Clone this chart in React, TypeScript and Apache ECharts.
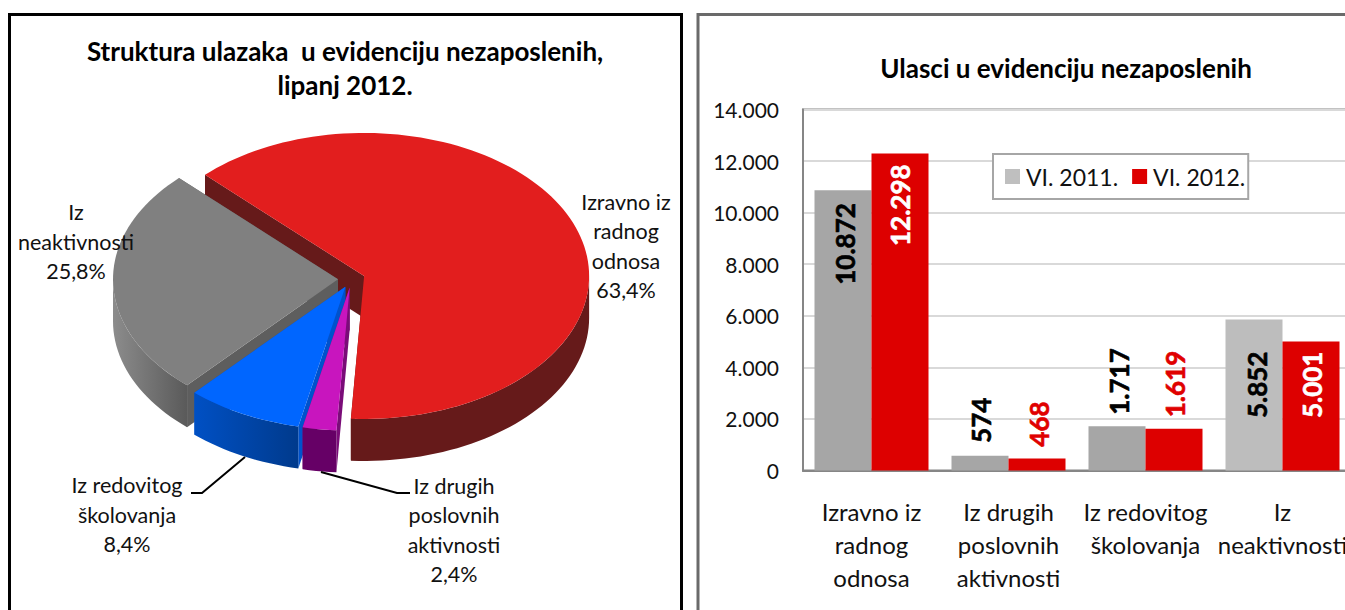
import React, { useEffect, useRef } from "react";
import * as echarts from "echarts";

const categories = [
  "Izravno iz\nradnog\nodnosa",
  "Iz drugih\nposlovnih\naktivnosti",
  "Iz redovitog\nškolovanja",
  "Iz\nneaktivnosti",
];
const values2011 = [10872, 574, 1717, 5852];
const values2012 = [12298, 468, 1619, 5001];
const seriesNames = ["VI. 2011.", "VI. 2012."];
const pieTitle = "Struktura ulazaka  u evidenciju nezaposlenih,\nlipanj 2012.";
const barTitle = "Ulasci u evidenciju nezaposlenih";

const FONT = "Lato, Carlito, Calibri, sans-serif";
const DATA_FONT = "Lato, sans-serif";

// bar label shifts from the bar's top (screen x, screen y), and their colours
const shift2011 = [[2, 13], [1, -58], [2, -78], [3, 32]];
const shift2012 = [[0, 11], [2, -57], [1, -78], [1, 10]];
const colors2011 = ["#A6A6A6", "#A6A6A6", "#A6A6A6", "#BDBDBD"];
const labelColors2012 = ["#FFFFFF", "#E00000", "#E00000", "#FFFFFF"];

// 3D pie layout
const PIE = { cx: 351.5, cy: 279, a: 225, b: 143, depth: 42, explode: 13.5, startDeg: 315 };
const pieTop = ["#E21E1E", "#C815BE", "#0066FF", "#808080"];
const pieFace = ["#661A1A", "#7A0C78", "#0052CC", "#5E5E5E"];
const pieWall: [string, string][] = [
  ["#661A1A", "#661A1A"],
  ["#660066", "#660066"],
  ["#003A8C", "#0050C4"],
  ["#5A5A5A", "#8C8C8C"],
];
const pieLabelPos = [
  [626, 246],
  [454, 530],
  [127, 514.5],
  [76, 241.5],
];
const leaderLines: number[][][] = [
  [],
  [[410, 493], [397, 493], [321, 472]],
  [[191, 493], [202, 493], [245, 457]],
  [],
];
// [slice, part]: part 1 = radial faces only, 2 = wall and top only, 0 = everything
const drawOrder = [[0, 1], [3, 0], [2, 0], [1, 0], [0, 2]];
const labelOrder = [3, 2, 1, 0];

const fmt = (v: number) => String(v).replace(/\B(?=(\d{3})+$)/g, ".");
const total = values2012.reduce((s, v) => s + v, 0);
const pct = (v: number) => ((v / total) * 100).toFixed(1).replace(".", ",") + "%";

function sliceAngles(i: number) {
  let t0 = PIE.startDeg;
  for (let k = 0; k < i; k++) t0 += (values2012[k] / total) * 360;
  return [t0, t0 + (values2012[i] / total) * 360];
}
const rad = (d: number) => (d * Math.PI) / 180;

function renderSlice(_p: any, api: any) {
  const i = api.value(0);
  const part = api.value(1);
  const [t0, t1] = sliceAngles(i);
  const mid = (t0 + t1) / 2;
  const cx = PIE.cx + PIE.explode * Math.sin(rad(mid));
  const cy = PIE.cy - PIE.explode * (PIE.b / PIE.a) * Math.cos(rad(mid));
  const pt = (t: number, dz = 0) => [
    cx + PIE.a * Math.sin(rad(t)),
    cy - PIE.b * Math.cos(rad(t)) + dz,
  ];
  const arc = (from: number, to: number, dz = 0) => {
    const n = Math.max(2, Math.ceil(Math.abs(to - from) / 2));
    const out: number[][] = [];
    for (let k = 0; k <= n; k++) out.push(pt(from + ((to - from) * k) / n, dz));
    return out;
  };
  const d = PIE.depth;
  const children: any[] = [];
  const face = (t: number) => ({
    type: "polygon",
    shape: { points: [[cx, cy], pt(t), pt(t, d), [cx, cy + d]] },
    style: { fill: pieFace[i] },
  });
  if (part !== 2) children.push(face(t0), face(t1));
  if (part !== 1) {
    for (const base of [90, 450]) {
      const f = Math.max(t0, base);
      const e = Math.min(t1, base + 180);
      if (e > f) {
        children.push({
          type: "polygon",
          shape: { points: [...arc(f, e), ...arc(e, f, d)] },
          style: {
            fill: {
              type: "linear", x: 0, y: 0, x2: 1, y2: 0,
              colorStops: [
                { offset: 0, color: pieWall[i][1] },
                { offset: 1, color: pieWall[i][0] },
              ],
            },
          },
        });
      }
    }
    children.push({
      type: "polygon",
      shape: { points: [[cx, cy], ...arc(t0, t1)] },
      style: { fill: pieTop[i] },
    });
  }
  return { type: "group", children };
}

function renderPieLabel(_p: any, api: any) {
  const i = api.value(0);
  const children: any[] = [];
  if (leaderLines[i].length) {
    children.push({
      type: "polyline",
      shape: { points: leaderLines[i] },
      style: { stroke: "#000", lineWidth: 2, fill: "none" },
    });
  }
  children.push({
    type: "text",
    style: {
      x: pieLabelPos[i][0],
      y: pieLabelPos[i][1],
      text: categories[i] + "\n" + pct(values2012[i]),
      fill: "#111",
      fontFamily: FONT,
      fontSize: 21.5,
      lineHeight: 29.3,
      align: "center",
      verticalAlign: "middle",
    },
  });
  return { type: "group", children };
}

export default function App() {
  const ref = useRef<HTMLDivElement>(null);
  useEffect(() => {
    const chart = echarts.init(ref.current!, null, { renderer: "svg" });
    const barLabel = (v: number, shift: number[], color: string) => ({
      show: true,
      position: "top",
      distance: 0,
      rotate: 90,
      align: "right",
      verticalAlign: "middle",
      offset: [-shift[1], shift[0]],
      color,
      fontFamily: DATA_FONT,
      fontSize: 26,
      fontWeight: "bold",
      textBorderColor: color,
      textBorderWidth: 0.6,
      formatter: () => fmt(v),
    });
    chart.setOption({
      animation: false,
      backgroundColor: "#fff",
      title: [
        {
          text: pieTitle,
          left: 340,
          top: 29,
          textAlign: "center",
          textStyle: { fontFamily: FONT, fontSize: 26, fontWeight: "bold", color: "#000", lineHeight: 34 },
        },
        {
          text: barTitle,
          left: 1061,
          top: 47,
          textAlign: "center",
          textStyle: { fontFamily: FONT, fontSize: 26, fontWeight: "bold", color: "#000", lineHeight: 32 },
        },
      ],
      legend: {
        data: seriesNames,
        left: 993,
        top: 154,
        orient: "horizontal",
        itemWidth: 15,
        itemHeight: 15,
        itemGap: 14,
        padding: [11, 3, 11, 12],
        backgroundColor: "#fff",
        borderColor: "#A6A6A6",
        borderWidth: 2,
        icon: "rect",
        textStyle: { fontFamily: FONT, fontSize: 23, color: "#111", padding: [0, 0, 0, 1] },
      },
      grid: {
        left: 803,
        top: 109.5,
        width: 548,
        height: 361,
        show: true,
        borderColor: "#868686",
        borderWidth: 2,
      },
      xAxis: {
        type: "category",
        data: categories,
        axisTick: { show: false },
        axisLine: { lineStyle: { color: "#868686", width: 2 } },
        axisLabel: {
          interval: 0,
          margin: 24,
          fontFamily: FONT,
          fontSize: 24,
          lineHeight: 33,
          color: "#111",
          verticalAlign: "top",
        },
      },
      yAxis: {
        type: "value",
        min: 0,
        max: 14000,
        interval: 2000,
        axisTick: { show: false },
        axisLine: { show: true, lineStyle: { color: "#868686", width: 2 } },
        splitLine: { lineStyle: { color: "#D9D9D9", width: 2 } },
        axisLabel: {
          margin: 24,
          fontFamily: FONT,
          fontSize: 21,
          color: "#111",
          formatter: (v: number) => fmt(v),
        },
      },
      series: [
        {
          name: seriesNames[0],
          type: "bar",
          barWidth: 57,
          barGap: 0,
          itemStyle: { color: "#BFBFBF" },
          data: values2011.map((v, i) => ({
            value: v,
            itemStyle: { color: colors2011[i] },
            label: barLabel(v, shift2011[i], "#000"),
          })),
        },
        {
          name: seriesNames[1],
          type: "bar",
          barWidth: 57,
          itemStyle: { color: "#DD0000" },
          data: values2012.map((v, i) => ({
            value: v,
            label: barLabel(v, shift2012[i], labelColors2012[i]),
          })),
        },
        {
          name: "pie",
          type: "custom",
          coordinateSystem: "none",
          renderItem: renderSlice,
          data: drawOrder,
          silent: true,
          z: 3,
        },
        {
          name: "pieLabels",
          type: "custom",
          coordinateSystem: "none",
          renderItem: renderPieLabel,
          data: labelOrder.map((i) => [i]),
          silent: true,
          z: 4,
        },
      ],
      graphic: [
        {
          type: "rect",
          shape: { x: 9.5, y: 14.5, width: 672, height: 720 },
          style: { fill: "none", stroke: "#000", lineWidth: 3 },
          silent: true,
        },
        {
          type: "rect",
          shape: { x: 698, y: 14.5, width: 720, height: 720 },
          style: { fill: "none", stroke: "#6A6A6A", lineWidth: 3 },
          silent: true,
        },
      ],
    });
    return () => chart.dispose();
  }, []);
  return (
    <div style={{ position: "fixed", left: 0, top: 0, width: 1345, height: 610, overflow: "hidden" }}>
      <div ref={ref} style={{ width: 1420, height: 610 }} />
    </div>
  );
}
